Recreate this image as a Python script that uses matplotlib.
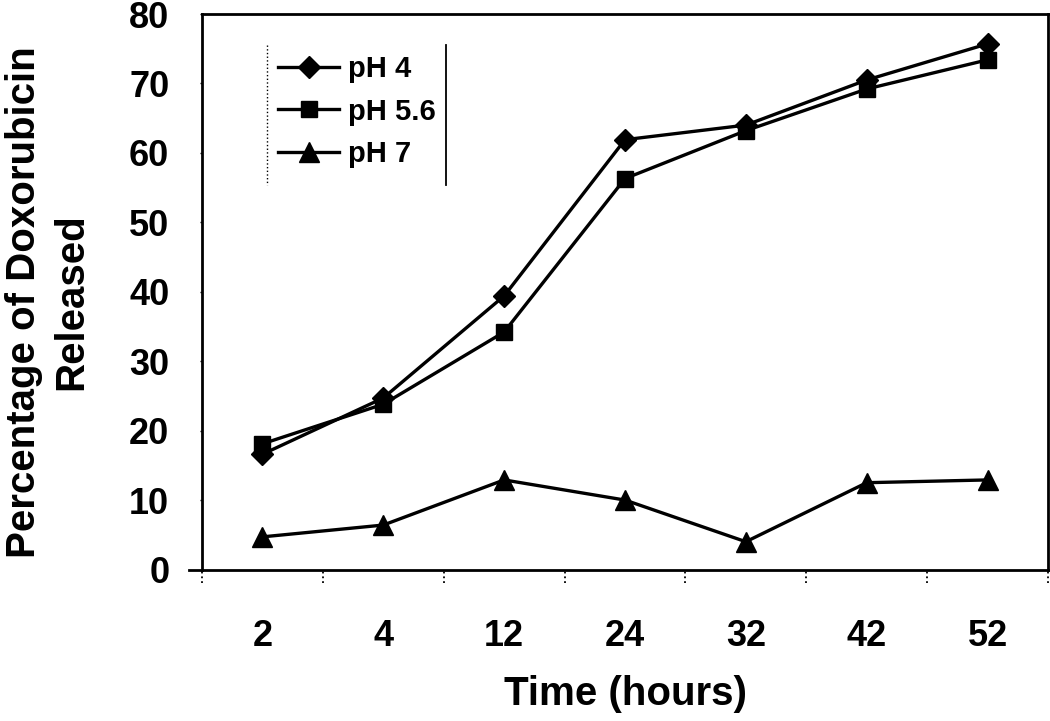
import numpy as np
import matplotlib.pyplot as plt
from matplotlib.transforms import blended_transform_factory

plt.rcParams['font.family'] = ['Liberation Sans', 'DejaVu Sans']
plt.rcParams['font.weight'] = 'bold'

hours = ['2', '4', '12', '24', '32', '42', '52']
ph4 = [16.6, 24.7, 39.4, 61.9, 64.0, 70.5, 75.7]
ph56 = [18.1, 23.8, 34.2, 56.3, 63.2, 69.2, 73.4]
ph7 = [4.7, 6.4, 12.9, 10.0, 4.0, 12.5, 12.9]

fig = plt.figure(figsize=(10.5, 7.21), dpi=100)
ax = fig.add_axes([202/1050, 1-569.5/721, 846/1050, 555.5/721])

x = np.arange(len(hours))
lw = 2.4
ax.plot(x, ph4, color='black', lw=lw, marker='D', ms=11, label='pH 4')
ax.plot(x, ph56, color='black', lw=lw, marker='s', ms=12, label='pH 5.6')
ax.plot(x, ph7, color='black', lw=lw, marker='^', ms=15, label='pH 7')

ax.set_xlim(-0.5, len(hours)-0.5)
ax.set_ylim(0, 80)
ax.set_yticks(np.arange(0, 81, 10))
ax.set_xticks(x)
ax.set_xticklabels(hours)
ax.tick_params(axis='x', length=0, pad=36, labelsize=26)
ax.tick_params(axis='y', length=1.5, width=1, pad=22, labelsize=26)
for lab in ax.get_xticklabels() + ax.get_yticklabels():
    lab.set_fontweight('bold')
for sp in ax.spines.values():
    sp.set_linewidth(2)

# dotted category separators below the x axis
tr = blended_transform_factory(ax.transData, ax.transAxes)
ax.vlines(np.arange(-0.5, len(hours)), -0.024, 0, transform=tr,
          colors='black', linestyles=':', lw=1.3, clip_on=False)
# zero tick extends left
ax.plot([-0.015, 0], [0, 0], transform=ax.transAxes, color='black',
        lw=2, clip_on=False)

ax.set_xlabel('Time (hours)', fontsize=29, fontweight='bold')
ax.xaxis.set_label_coords(0.5, -0.19)
fig.text(48/1050, 1-302/721, 'Percentage of Doxorubicin\nReleased',
         rotation=90, ha='center', va='center', fontsize=29,
         fontweight='bold', linespacing=1.3)

leg = ax.legend(loc='upper left', bbox_to_anchor=(278/1050, 1-55/721),
                bbox_transform=fig.transFigure, frameon=False,
                fontsize=21, handlelength=2.1, handletextpad=0.3,
                labelspacing=0.5, borderpad=0, borderaxespad=0)
for t in leg.get_texts():
    t.set_fontweight('bold')

# legend side rules
fig.add_artist(plt.Line2D([267/1050, 267/1050], [1-45/721, 1-185/721],
                          color='black', lw=1, ls=':'))
fig.add_artist(plt.Line2D([446/1050, 446/1050], [1-45/721, 1-185/721],
                          color='black', lw=1.3))

fig.savefig('out.png', dpi=100)
